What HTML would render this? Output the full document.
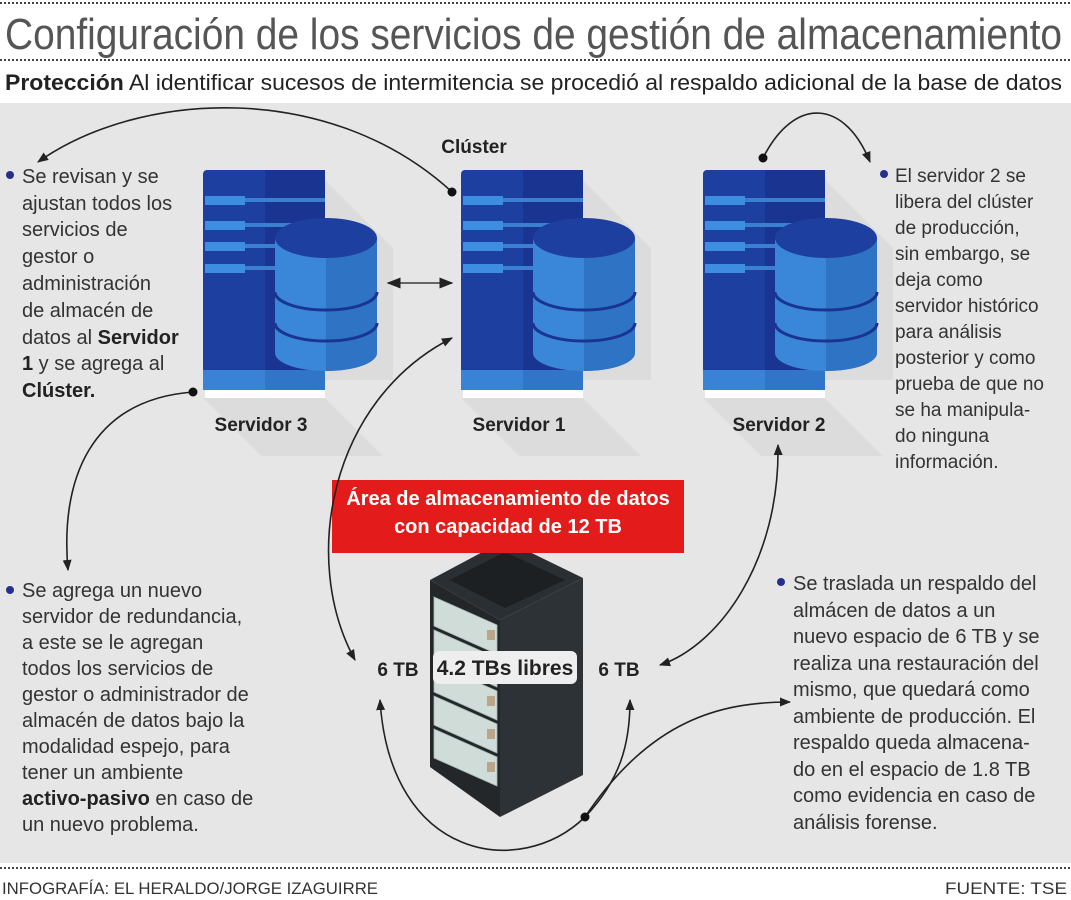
<!DOCTYPE html>
<html><head><meta charset="utf-8"><style>
html,body{margin:0;padding:0;background:#fff;}
svg{display:block;}
text{font-family:"Liberation Sans",sans-serif;}
</style></head><body>
<svg width="1071" height="900" viewBox="0 0 1071 900" xmlns="http://www.w3.org/2000/svg">
<defs>
<marker id="ah" viewBox="0 0 10 10" refX="9" refY="5" markerWidth="7" markerHeight="7" orient="auto-start-reverse"><path d="M0,1 L10,5 L0,9 Z" fill="#222"/></marker>
<g id="srv">
  <polygon points="122,10 190,78 190,210 122,210" fill="#dcdcdc"/>
  <polygon points="0,228 122,228 180,286 58,286" fill="#dcdcdc"/>
  <rect x="0" y="0" width="122" height="220" rx="4" fill="#1d3f9f"/>
  <rect x="62" y="0" width="60" height="220" fill="#1a3591"/>
  <rect x="2" y="26" width="40" height="9" fill="#3d8ee0"/><rect x="42" y="28" width="80" height="4" fill="#3a7fd0"/>
  <rect x="2" y="51" width="40" height="9" fill="#3d8ee0"/><rect x="42" y="53" width="80" height="4" fill="#3a7fd0"/>
  <rect x="2" y="72" width="40" height="9" fill="#3d8ee0"/><rect x="42" y="74" width="80" height="4" fill="#3a7fd0"/>
  <rect x="2" y="94" width="40" height="9" fill="#3d8ee0"/><rect x="42" y="96" width="80" height="4" fill="#3a7fd0"/>
  <rect x="0" y="200" width="122" height="20" fill="#3a82d6"/>
  <rect x="62" y="200" width="60" height="20" fill="#3175c8"/>
  <rect x="2" y="220" width="120" height="8" fill="#ffffff"/>
  <path d="M72,68 L174,68 L174,183 A51,18 0 0 1 72,183 Z" fill="#3a86d8"/>
  <path d="M123,68 L174,68 L174,183 A51,18 0 0 1 123,201 Z" fill="#2f74c4"/>
  <path d="M72,122 A51,18 0 0 0 174,122" fill="none" stroke="#1a3591" stroke-width="3"/>
  <path d="M72,153 A51,18 0 0 0 174,153" fill="none" stroke="#1a3591" stroke-width="3"/>
  <ellipse cx="123" cy="68" rx="51" ry="20" fill="#1d3f9f"/>
</g>
</defs>
<rect x="0" y="103" width="1071" height="760" fill="#e6e6e6"/>
<line x1="0" y1="3" x2="1071" y2="3" stroke="#444" stroke-width="2" stroke-dasharray="2,2"/>
<line x1="0" y1="60" x2="1071" y2="60" stroke="#444" stroke-width="2" stroke-dasharray="2,2"/>
<line x1="0" y1="868" x2="1071" y2="868" stroke="#444" stroke-width="2" stroke-dasharray="2,2"/>
<text x="5" y="49" font-size="44" fill="#555" textLength="1057" lengthAdjust="spacingAndGlyphs">Configuración de los servicios de gestión de almacenamiento</text>
<text x="5" y="90" font-size="22" fill="#222" textLength="1057" lengthAdjust="spacingAndGlyphs"><tspan font-weight="bold">Protección</tspan> Al identificar sucesos de intermitencia se procedió al respaldo adicional de la base de datos</text>

<use href="#srv" x="203" y="170"/>
<use href="#srv" x="461" y="170"/>
<use href="#srv" x="703" y="170"/>

<g font-weight="bold" font-size="19" fill="#222" text-anchor="middle">
<text x="474" y="153">Clúster</text>
<text x="261" y="431">Servidor 3</text>
<text x="519" y="431">Servidor 1</text>
<text x="779" y="431">Servidor 2</text>
</g>

<!-- rack -->
<polygon points="430,580 505,540 583,578 500,620" fill="#2a2f33"/>
<polygon points="450,580 505,552 565,580 505,608" fill="#1c2023"/>
<polygon points="430,580 500,620 500,817 430,767" fill="#23272a"/>
<polygon points="500,620 583,578 583,775 500,817" fill="#2c3236"/>
<g fill="#cfdcd8" stroke="#a9bbb6" stroke-width="0.8">
<polygon points="434,597 497,625 497,654 434,626"/>
<polygon points="434,630 497,658 497,687 434,659"/>
<polygon points="434,663 497,691 497,720 434,692"/>
<polygon points="434,696 497,724 497,753 434,725"/>
<polygon points="434,729 497,757 497,786 434,758"/>
</g>
<g fill="#b9a58a">
<rect x="487" y="630" width="8" height="10"/><rect x="487" y="663" width="8" height="10"/>
<rect x="487" y="696" width="8" height="10"/><rect x="487" y="729" width="8" height="10"/><rect x="487" y="762" width="8" height="10"/>
</g>
<rect x="433" y="651" width="144" height="33" rx="6" fill="#eeeeee"/>
<text x="505" y="675" font-size="21" font-weight="bold" fill="#222" text-anchor="middle">4.2 TBs libres</text>
<g font-size="19" font-weight="bold" fill="#222" text-anchor="middle">
<text x="398" y="676">6 TB</text>
<text x="619" y="676">6 TB</text>
</g>

<rect x="332" y="480" width="352" height="73" fill="#e31b1b"/>
<g font-size="20" font-weight="bold" fill="#fff" text-anchor="middle">
<text x="508" y="505">Área de almacenamiento de datos</text>
<text x="508" y="533">con capacidad de 12 TB</text>
</g>

<g fill="none" stroke="#222" stroke-width="1.6">
<path d="M452,192 C 330,80 140,90 38,162" marker-end="url(#ah)"/>
<path d="M763,158 C 795,95 845,100 870,162" marker-end="url(#ah)"/>
<path d="M388,283 L452,283" marker-end="url(#ah)" marker-start="url(#ah)" stroke="#666" stroke-width="2"/>
<path d="M193,392 C 90,400 60,480 68,570" marker-end="url(#ah)"/>
<path d="M452,338 C 330,400 300,560 355,660" marker-end="url(#ah)" marker-start="url(#ah)"/>
<path d="M778,445 C 780,560 720,645 660,665" marker-end="url(#ah)" marker-start="url(#ah)"/>
<path d="M585,817 C 520,880 390,860 380,700" marker-end="url(#ah)"/>
<path d="M585,817 C 620,780 630,745 630,700" marker-end="url(#ah)"/>
<path d="M585,817 C 650,720 720,702 790,702" marker-end="url(#ah)"/>
</g>
<g fill="#111">
<circle cx="452" cy="192" r="4.5"/><circle cx="763" cy="158" r="4.5"/>
<circle cx="193" cy="392" r="4.5"/><circle cx="585" cy="817" r="4.5"/>
</g>

<g fill="#26308a">
<circle cx="10" cy="175" r="4"/><circle cx="884" cy="174" r="4"/>
<circle cx="10" cy="590" r="4"/><circle cx="781" cy="582" r="4"/>
</g>
<g font-size="20" fill="#333">
<text x="22" y="183">Se revisan y se</text>
<text x="22" y="210">ajustan todos los</text>
<text x="22" y="236">servicios de</text>
<text x="22" y="263">gestor o</text>
<text x="22" y="290">administración</text>
<text x="22" y="317">de almacén de</text>
<text x="22" y="344">datos al <tspan font-weight="bold" fill="#222">Servidor</tspan></text>
<text x="22" y="370"><tspan font-weight="bold" fill="#222">1</tspan> y se agrega al</text>
<text x="22" y="397" font-weight="bold" fill="#222">Clúster.</text>
</g>
<g font-size="19" fill="#333">
<text x="895" y="182">El servidor 2 se</text>
<text x="895" y="208">libera del clúster</text>
<text x="895" y="234">de producción,</text>
<text x="895" y="260">sin embargo, se</text>
<text x="895" y="286">deja como</text>
<text x="895" y="312">servidor histórico</text>
<text x="895" y="338">para análisis</text>
<text x="895" y="364">posterior y como</text>
<text x="895" y="390">prueba de que no</text>
<text x="895" y="416">se ha manipula-</text>
<text x="895" y="442">do ninguna</text>
<text x="895" y="468">información.</text>
</g>
<g font-size="20" fill="#333">
<text x="22" y="597">Se agrega un nuevo</text>
<text x="22" y="623">servidor de redundancia,</text>
<text x="22" y="649">a este se le agregan</text>
<text x="22" y="675">todos los servicios de</text>
<text x="22" y="701">gestor o administrador de</text>
<text x="22" y="727">almacén de datos bajo la</text>
<text x="22" y="753">modalidad espejo, para</text>
<text x="22" y="779">tener un ambiente</text>
<text x="22" y="805"><tspan font-weight="bold" fill="#222">activo-pasivo</tspan> en caso de</text>
<text x="22" y="831">un nuevo problema.</text>
</g>
<g font-size="20" fill="#333">
<text x="793" y="590">Se traslada un respaldo del</text>
<text x="793" y="617">almácen de datos a un</text>
<text x="793" y="643">nuevo espacio de 6 TB y se</text>
<text x="793" y="670">realiza una restauración del</text>
<text x="793" y="696">mismo, que quedará como</text>
<text x="793" y="723">ambiente de producción. El</text>
<text x="793" y="749">respaldo queda almacena-</text>
<text x="793" y="776">do en el espacio de 1.8 TB</text>
<text x="793" y="802">como evidencia en caso de</text>
<text x="793" y="829">análisis forense.</text>
</g>
<text x="2" y="894" font-size="17" fill="#333" textLength="376" lengthAdjust="spacingAndGlyphs">INFOGRAFÍA: EL HERALDO/JORGE IZAGUIRRE</text>
<text x="945" y="894" font-size="17" fill="#333" textLength="122" lengthAdjust="spacingAndGlyphs">FUENTE: TSE</text>
</svg>
</body></html>
